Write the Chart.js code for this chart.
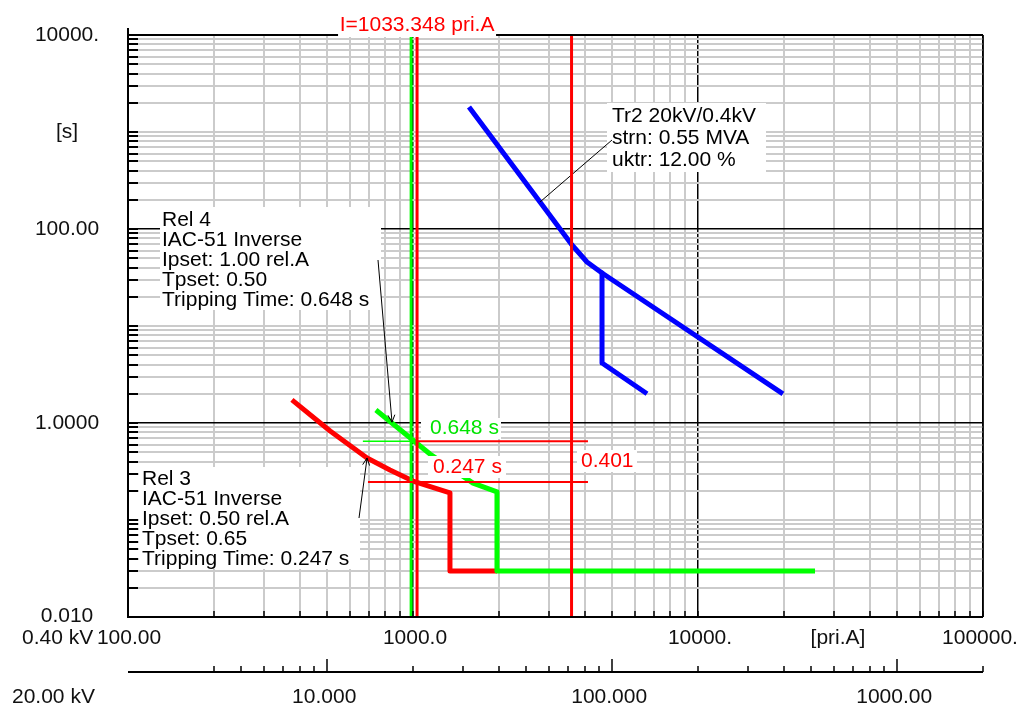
<!DOCTYPE html>
<html><head><meta charset="utf-8">
<script src="https://cdn.jsdelivr.net/npm/chart.js@4.4.1/dist/chart.umd.min.js"></script>
<style>html,body{margin:0;padding:0;background:#fff;}canvas{display:block;}</style>
</head><body>
<canvas id="c" width="1019" height="706"></canvas>
<script>
// ---------- data (currents in pri.A at 0.40 kV, times in s) ----------
const rel3Current = [376, 512, 690, 830, 1000, 1348, 1348, 1971];
const rel3Time    = [1.73, 0.827, 0.436, 0.328, 0.252, 0.190, 0.0298, 0.0298];
const rel4Current = [741, 1147, 1624, 1971, 1971, 25740];
const rel4Time    = [1.36, 0.479, 0.240, 0.195, 0.0298, 0.0298];
const tr2Current  = [1572, 2790, 3613, 4078, 4605, 19860];
const tr2Time     = [1811, 189.8, 68.4, 45.7, 35.2, 2.0];
const tr2BranchCurrent = [4605, 4605, 6624];
const tr2BranchTime    = [35.2, 4.16, 2.0];
const faultCurrentRel4 = 985;
const faultCurrentRel3 = 1033.348;
const secondCurrent = 3600;
const tripTimeRel4 = 0.648;
const tripTimeRel3 = 0.247;
const markerStartRel4 = 667;
const markerStartRel3 = 695;
const markerEnd = 4111;
const timeRange = [0.01, 10000];
const currentRange = [100, 100000];

const xGridValues = [100,200,300,400,500,600,700,800,900,1000,2000,3000,4000,5000,6000,7000,8000,9000,10000,20000,30000,40000,50000,60000,70000,80000,90000,100000];
const yGridValues = [0.01,0.02,0.03,0.04,0.05,0.06,0.07,0.08,0.09,0.1,0.2,0.3,0.4,0.5,0.6,0.7,0.8,0.9,1,2,3,4,5,6,7,8,9,10,20,30,40,50,60,70,80,90,100,200,300,400,500,600,700,800,900,1000,2000,3000,4000,5000,6000,7000,8000,9000,10000];
const xMajor = [100, 1000, 10000, 100000];
const yMajor = [0.01, 1, 100, 10000];
const xLabelValues = [100, 1000, 10000, 100000];
const xLabels = ['100.00', '1000.0', '10000.', '100000.'];
const yLabelValues = [10000, 100, 1, 0.01];
const yLabels = ['10000.', '100.00', '1.0000', '0.010'];
const hvTickValues = [4,5,6,7,8,9,10,20,30,40,50,60,70,80,90,100,200,300,400,500,600,700,800,900,1000,2000];
const hvMajor = [10, 100, 1000];
const hvLabels = ['10.000', '100.000', '1000.00'];
const voltageRatio = 20 / 0.4;

const rel4Text = ['Rel 4', 'IAC-51 Inverse', 'Ipset: 1.00 rel.A', 'Tpset: 0.50', 'Tripping Time: 0.648 s'];
const rel3Text = ['Rel 3', 'IAC-51 Inverse', 'Ipset: 0.50 rel.A', 'Tpset: 0.65', 'Tripping Time: 0.247 s'];
const tr2Text  = ['Tr2 20kV/0.4kV', 'strn: 0.55 MVA', 'uktr: 12.00 %'];

// ---------- styles ----------
const RED = '#ff0000', GREEN = '#00ff00', BLUE = '#0000ff', GTEXT = '#00e400';
const FONT = '21px "Liberation Sans", Arial, sans-serif';
const GRID_GRAY = '#cbcbcb';

function xy(xs, ys){ return xs.map((x,i)=>({x:x, y:ys[i]})); }
function line(id, xs, ys, color, width, order){
  return {id:id, data:xy(xs,ys), showLine:true, pointRadius:0, borderColor:color, backgroundColor:color,
          borderWidth:width, order:order, borderJoinStyle:'round', borderCapStyle:'butt', fill:false, tension:0};
}

function textLines(ctx, lines, x, y0, dy, color){
  ctx.fillStyle = color; ctx.textAlign='left'; ctx.textBaseline='middle'; ctx.font = FONT;
  lines.forEach((t,i)=>ctx.fillText(t, x, y0 + i*dy));
}
function whiteBox(ctx, x, y, w, h){ ctx.fillStyle='#fff'; ctx.fillRect(x,y,w,h); }
function leader(ctx, x1, y1, x2, y2, arrow){
  ctx.strokeStyle='#000'; ctx.lineWidth=1; ctx.beginPath(); ctx.moveTo(x1,y1); ctx.lineTo(x2,y2); ctx.stroke();
  if(arrow){
    const a = Math.atan2(y2-y1, x2-x1), L = 8;
    ctx.beginPath();
    ctx.moveTo(x2 - L*Math.cos(a-0.45), y2 - L*Math.sin(a-0.45)); ctx.lineTo(x2,y2);
    ctx.lineTo(x2 - L*Math.cos(a+0.45), y2 - L*Math.sin(a+0.45)); ctx.stroke();
  }
}

function drawAnnotations(chart){
  const ctx = chart.ctx, X = chart.scales.x, Y = chart.scales.y;
  ctx.save();
  whiteBox(ctx, 160, 207, 221, 103); textLines(ctx, rel4Text, 162, 220, 20, '#000');
  whiteBox(ctx, 139, 467, 221, 102); textLines(ctx, rel3Text, 142, 479, 20, '#000');
  whiteBox(ctx, 607, 103, 159, 69);  textLines(ctx, tr2Text, 612, 116, 22, '#000');
  whiteBox(ctx, 421, 418, 80, 21);   textLines(ctx, ['0.648 s'], 430, 428, 0, GTEXT);
  whiteBox(ctx, 428, 456, 78, 22);   textLines(ctx, ['0.247 s'], 433, 467, 0, RED);
  whiteBox(ctx, 577, 450, 60, 22);   textLines(ctx, ['0.401'], 581, 461, 0, RED);
  leader(ctx, 612, 140, X.getPixelForValue(2790), Y.getPixelForValue(189.8), false);
  leader(ctx, 378, 260, X.getPixelForValue(844), Y.getPixelForValue(1.02), true);
  leader(ctx, 359, 518, X.getPixelForValue(690), Y.getPixelForValue(0.436), true);
  ctx.restore();
}

function drawAxes(chart){
  const ctx = chart.ctx, X = chart.scales.x, Y = chart.scales.y, a = chart.chartArea;
  ctx.save();
  ctx.strokeStyle = '#000';
  ctx.lineWidth = 2;
  yGridValues.forEach(v=>{ if(v===timeRange[0]||v===timeRange[1]) return;
    const y = Math.round(Y.getPixelForValue(v));
    ctx.beginPath(); ctx.moveTo(a.left, y); ctx.lineTo(a.left+10, y); ctx.stroke(); });
  ctx.lineWidth = 1.5;
  xGridValues.forEach(v=>{ const x = Math.round(X.getPixelForValue(v));
    ctx.beginPath(); ctx.moveTo(x, a.bottom); ctx.lineTo(x, a.bottom-6); ctx.stroke(); });
  ctx.lineWidth = 2;
  ctx.beginPath(); ctx.moveTo(a.left, 28); ctx.lineTo(a.left, a.bottom); ctx.lineTo(a.right, a.bottom); ctx.stroke();
  ctx.beginPath(); ctx.moveTo(a.left, a.top); ctx.lineTo(a.right, a.top); ctx.stroke();
  ctx.lineWidth = 1.5;
  ctx.beginPath(); ctx.moveTo(a.right, a.top); ctx.lineTo(a.right, a.bottom); ctx.stroke();

  ctx.font = FONT; ctx.fillStyle = '#111'; ctx.textBaseline = 'middle';
  ctx.textAlign = 'center';
  yLabelValues.forEach((v,i)=>{ ctx.fillText(yLabels[i], 67, Y.getPixelForValue(v) + (i===yLabels.length-1 ? -1 : 0)); });
  ctx.fillText('[s]', 67, Y.getPixelForValue(1000));
  const xOff = [1, 2, 2, -3];
  xLabelValues.forEach((v,i)=>{ ctx.fillText(xLabels[i], X.getPixelForValue(v) + xOff[i], 638); });
  ctx.fillText('[pri.A]', 838, 638);
  ctx.textAlign = 'left';
  ctx.fillText('0.40 kV', 22, 638);
  const yA = 672;
  ctx.lineWidth = 2;
  ctx.beginPath(); ctx.moveTo(a.left, yA); ctx.lineTo(a.right, yA); ctx.stroke();
  ctx.lineWidth = 1.5;
  hvTickValues.forEach(v=>{ const x = Math.round(X.getPixelForValue(v*voltageRatio));
    const len = hvMajor.includes(v) ? 13 : 6;
    ctx.beginPath(); ctx.moveTo(x, yA); ctx.lineTo(x, yA-len); ctx.stroke(); });
  ctx.textAlign = 'center';
  hvMajor.forEach((v,i)=>{ ctx.fillText(hvLabels[i], X.getPixelForValue(v*voltageRatio) - 3, 697); });
  ctx.textAlign = 'left';
  ctx.fillText('20.00 kV', 12, 697);
  const xm = X.getPixelForValue(faultCurrentRel3);
  whiteBox(ctx, xm - 79, 10, 158, 27);
  ctx.fillStyle = RED; ctx.textAlign = 'center';
  ctx.fillText('I=' + faultCurrentRel3.toFixed(3) + ' pri.A', xm, 25);
  ctx.restore();
}

const overlay = {
  id: 'overlay',
  beforeDraw(chart){ const c = chart.ctx; c.save(); c.fillStyle='#fff'; c.fillRect(0,0,chart.width,chart.height); c.restore(); },
  afterDatasetDraw(chart, args){ if(chart.data.datasets[args.index].id === 'rel4') drawAnnotations(chart); },
  afterDraw(chart){ drawAxes(chart); }
};

function gridColor(v, majors){ return majors.includes(v) ? '#000' : GRID_GRAY; }
function gridWidth(v, majors){ return majors.includes(v) ? 1.5 : 2; }

new Chart(document.getElementById('c'), {
  type: 'scatter',
  data: { datasets: [
    line('tr2',  tr2Current, tr2Time, BLUE, 5, 10),
    line('tr2b', tr2BranchCurrent, tr2BranchTime, BLUE, 5, 10),
    line('rel3', rel3Current, rel3Time, RED, 5, 9),
    line('rel4', rel4Current, rel4Time, GREEN, 5, 8),
    line('v4', [faultCurrentRel4, faultCurrentRel4], timeRange, GREEN, 3, 4),
    line('v3', [faultCurrentRel3, faultCurrentRel3], timeRange, RED, 3, 3),
    line('v2', [secondCurrent, secondCurrent], timeRange, RED, 3, 3),
    line('h4g', [markerStartRel4, faultCurrentRel4], [tripTimeRel4, tripTimeRel4], GREEN, 1.5, 2),
    line('h4r', [faultCurrentRel3, markerEnd], [tripTimeRel4, tripTimeRel4], RED, 2, 2),
    line('h3r', [markerStartRel3, markerEnd], [tripTimeRel3, tripTimeRel3], RED, 2, 2)
  ]},
  options: {
    responsive: false, animation: false, devicePixelRatio: 1, events: [],
    layout: { padding: { left: 128, top: 35, right: 36, bottom: 89 } },
    plugins: { legend: { display: false }, tooltip: { enabled: false }, title: { display: false } },
    scales: {
      x: { type: 'logarithmic', position: 'bottom', min: currentRange[0], max: currentRange[1],
           afterBuildTicks: s => { s.ticks = xGridValues.map(v => ({ value: v })); },
           ticks: { display: false }, border: { display: false },
           grid: { drawTicks: false, color: c => gridColor(c.tick && c.tick.value, xMajor), lineWidth: c => gridWidth(c.tick && c.tick.value, xMajor) } },
      y: { type: 'logarithmic', position: 'left', min: timeRange[0], max: timeRange[1],
           afterBuildTicks: s => { s.ticks = yGridValues.map(v => ({ value: v })); },
           ticks: { display: false }, border: { display: false },
           grid: { drawTicks: false, color: c => gridColor(c.tick && c.tick.value, yMajor), lineWidth: c => gridWidth(c.tick && c.tick.value, yMajor) } }
    }
  },
  plugins: [overlay]
});
</script>
</body></html>
